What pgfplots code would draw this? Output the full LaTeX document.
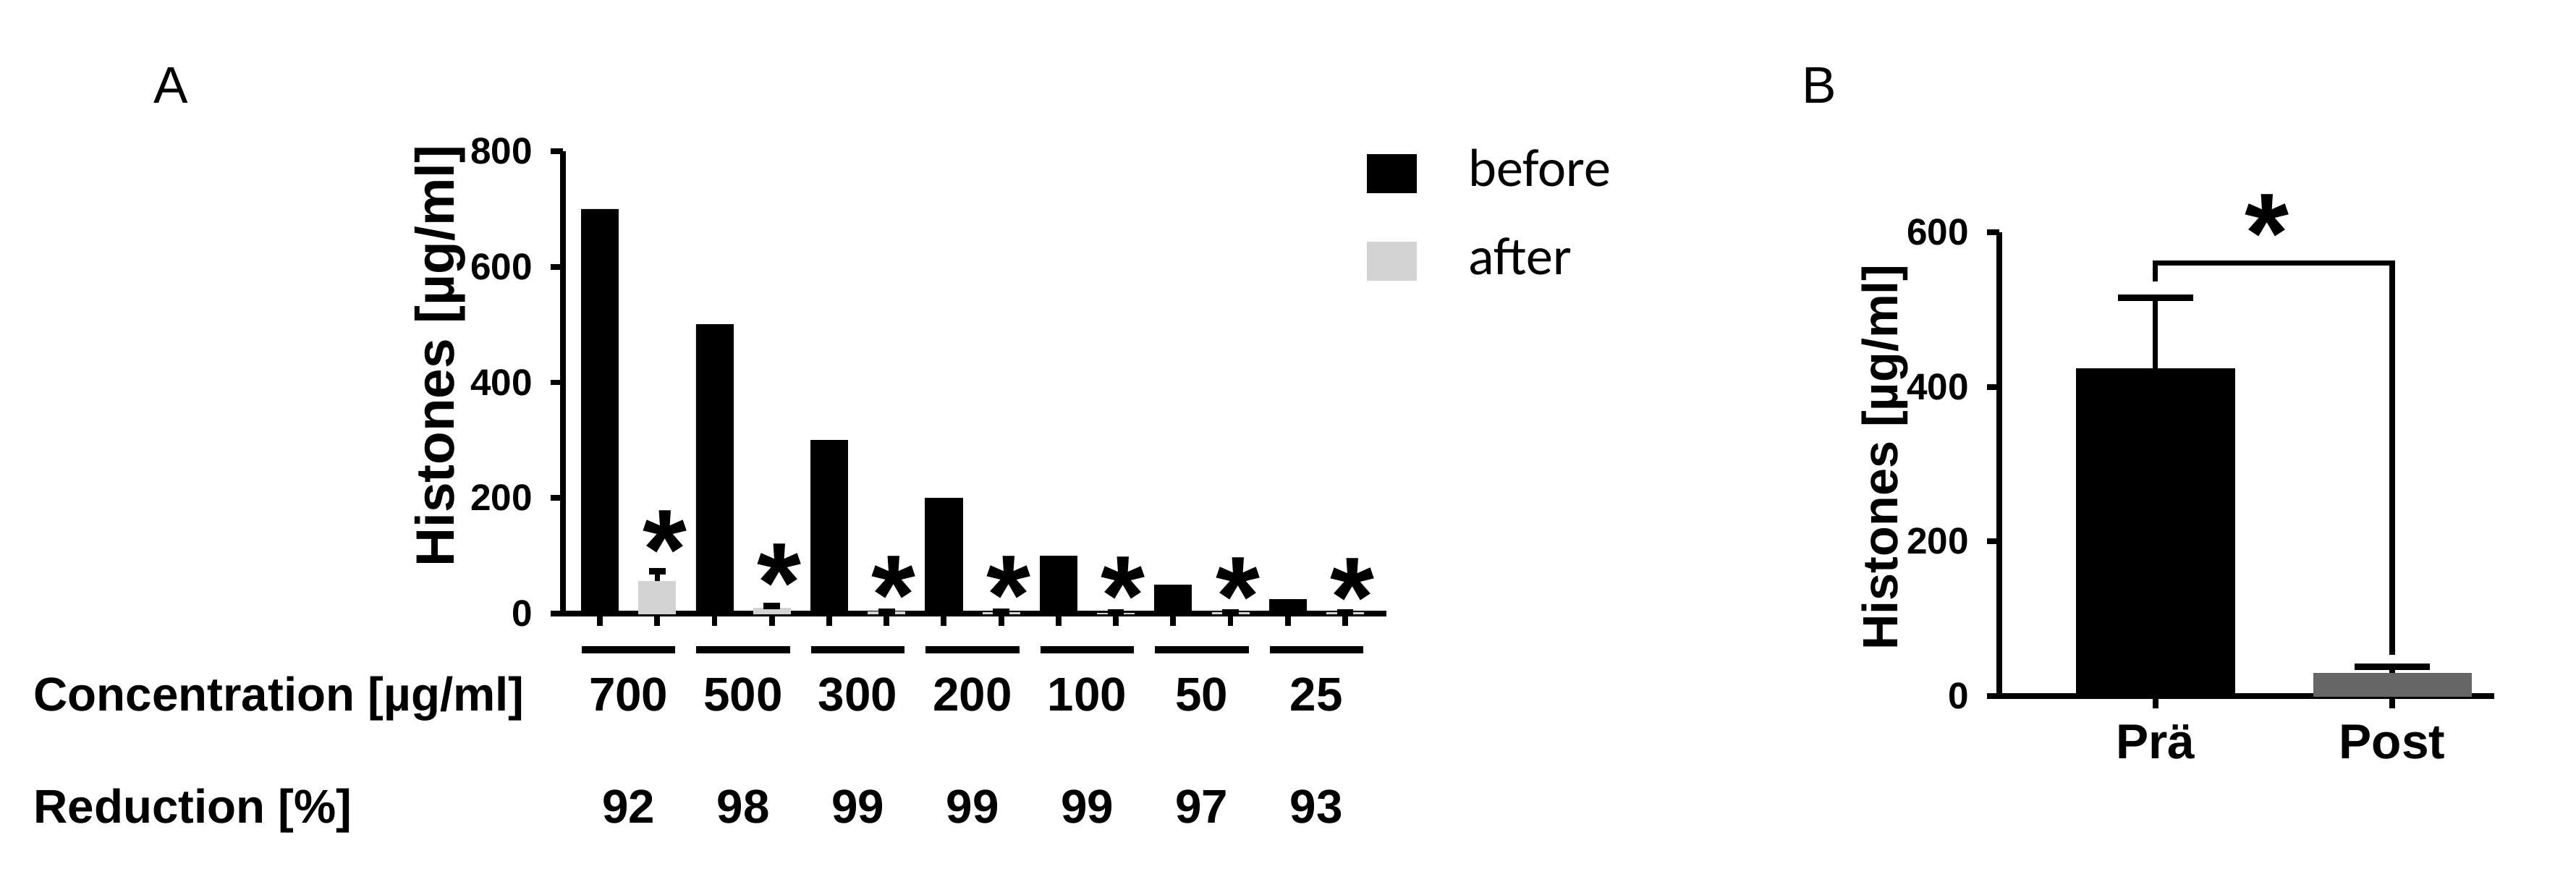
\documentclass[border=0pt]{standalone}
\usepackage{fontspec}
\setmainfont{Liberation Sans}
\newfontfamily\legendfont{Carlito}
\usepackage{pgfplots}
\pgfplotsset{compat=1.18}

\definecolor{aftergray}{RGB}{211,211,211}
\definecolor{postgray}{RGB}{102,102,102}

\pgfplotsset{
  histo/.style={
    scale only axis, clip=false, enlargelimits=false,
    axis x line*=bottom, axis y line*=left,
    axis line style={-, line width=1pt},
    tick style={line width=1.1pt, black},
    major tick length=2.4pt,
    tick align=outside,
    ymin=0,
    /pgf/number format/assume math mode=true,
    tick label style={font=\bfseries\fontsize{7.2}{8}\selectfont},
    ylabel style={font=\bfseries\fontsize{10.5}{12}\selectfont, anchor=center},
  },
  sqlegend/.style={legend image code/.code={\fill[##1] (0pt,-4pt) rectangle (9.55pt,3.45pt);}},
  errs/.style={error bars/.cd, y dir=plus, y explicit,
    error bar style={draw=black, solid, line width=1pt},
    error mark options={rotate=90, draw=black, solid, line width=1.2pt, mark size=#1}},
}
\tikzset{
  star/.style={font=\bfseries\fontsize{22}{22}\selectfont, inner sep=0pt, anchor=base, yshift=-10.5pt},
  lbl/.style={font=\bfseries\fontsize{9.2}{11}\selectfont, inner sep=0pt},
}

% one group under panel A: centre x, concentration, reduction
\newcommand{\grp}[3]{%
  \draw[line width=1.4pt] ([xshift=-9.1pt,yshift=-7pt]axis cs:#1,0) -- ([xshift=9.1pt,yshift=-7pt]axis cs:#1,0);
  \node[lbl, anchor=base] at ([yshift=-18.96pt]axis cs:#1,0) {#2};
  \node[lbl, anchor=base] at ([yshift=-40.7pt]axis cs:#1,0) {#3};
}

\begin{document}
\begin{tikzpicture}
\path[use as bounding box] (0,0) rectangle (500pt,168.54pt);

% ---- panel A ----
\begin{axis}[histo,
  at={(109.27pt,49.44pt)}, anchor=south west,
  width=159.83pt, height=89.75pt,
  xmin=-0.644, xmax=13.72, ymax=800,
  ytick={0,200,...,800},
  xtick={0,...,13}, xticklabels={},
  ylabel={Histones [µg/ml]},
  ylabel style={at={(axis description cs:-0.1494,0.557)}},
  legend cell align=left,
  legend style={draw=none, fill=none, inner sep=0pt,
    at={(axis description cs:0.9754,1.006)}, anchor=north west,
    nodes={inner sep=0pt}, column sep=10pt, row sep=8.4pt,
    font=\legendfont\fontsize{10.4}{12}\selectfont},
]
\addplot[ybar, bar shift=0pt, bar width=0.645, fill=black, draw=black, line width=0.1pt, sqlegend]
  coordinates {(0,700) (2,500) (4,300) (6,200) (8,100) (10,50) (12,25)};
\addlegendentry{before}
\addplot[ybar, bar shift=0pt, bar width=0.645, fill=aftergray, draw=aftergray, line width=0.1pt, sqlegend, errs=1.6pt]
  coordinates {(1,56) +- (0,17) (3,10) +- (0,3) (5,3) +- (0,1) (7,2) +- (0,1)
               (9,1) +- (0,1) (11,1.5) +- (0,1) (13,1.75) +- (0,1)};
\addlegendentry{after}

\node[star] at (axis cs:1.13,137) {*};
\node[star] at (axis cs:3.13,79) {*};
\node[star] at (axis cs:5.13,58) {*};
\node[star] at (axis cs:7.13,58) {*};
\node[star] at (axis cs:9.13,57) {*};
\node[star] at (axis cs:11.13,56) {*};
\node[star] at (axis cs:13.13,54) {*};

\grp{0.5}{700}{92}
\grp{2.5}{500}{98}
\grp{4.5}{300}{99}
\grp{6.5}{200}{99}
\grp{8.5}{100}{99}
\grp{10.5}{50}{97}
\grp{12.5}{25}{93}
\end{axis}

\node[lbl, anchor=base west] at (6.32pt,30.48pt) {Concentration [µg/ml]};
\node[lbl, anchor=base west] at (6.32pt,8.71pt) {Reduction [\%]};
\node[font=\fontsize{10}{12}\selectfont, inner sep=0pt, anchor=base west] at (29.63pt,148.46pt) {A};
\node[font=\fontsize{10}{12}\selectfont, inner sep=0pt, anchor=base west] at (349.58pt,148.46pt) {B};

% ---- panel B ----
\begin{axis}[histo,
  at={(388.06pt,33.43pt)}, anchor=south west,
  width=96.07pt, height=90.03pt,
  xmin=-0.66, xmax=1.431, ymax=600,
  ytick={0,200,400,600},
  xtick={0,1}, xticklabels={Prä,Post},
  xticklabel style={font=\bfseries\fontsize{9.5}{11}\selectfont, inner sep=0pt, yshift=-3pt},
  ylabel={Histones [µg/ml]},
  ylabel style={at={(axis description cs:-0.231,0.515)}, font=\bfseries\fontsize{9.6}{11}\selectfont},
]
\addplot[ybar, bar shift=0pt, bar width=0.667, fill=black, draw=black, line width=0.1pt, errs=7.3pt]
  coordinates {(0,424) +- (0,91)};
\addplot[ybar, bar shift=0pt, bar width=0.667, fill=postgray, draw=postgray, line width=0.1pt, errs=7.3pt]
  coordinates {(1,30) +- (0,8)};
\draw[line width=1pt] (axis cs:0,536) -- (axis cs:0,560) -- (axis cs:1,560) -- (axis cs:1,53);
\node[star] at (axis cs:0.47,618) {*};
\end{axis}
\end{tikzpicture}
\end{document}
